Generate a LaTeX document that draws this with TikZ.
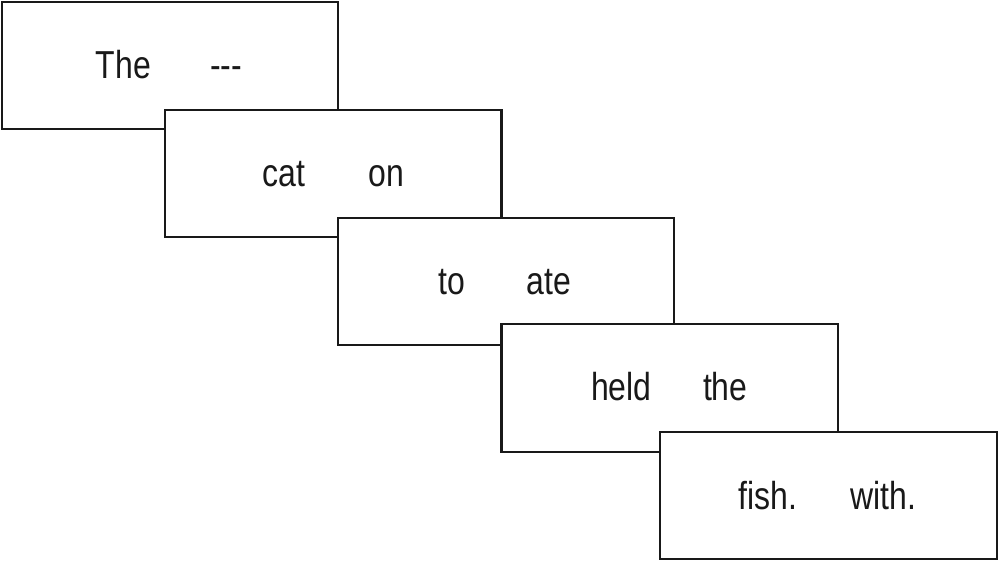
\documentclass[tikz,border=0pt]{standalone}
\usepackage{fontspec}
\newfontfamily\lab{Liberation Sans}
\newcommand{\narrowword}[1]{\scalebox{0.82}[1]{#1}}
\begin{document}
\begin{tikzpicture}[x=0.02cm,y=-0.02cm,
  card/.style={draw=black!90,fill=white,line width=1.35pt,rectangle,minimum width=6.73cm,minimum height=2.55cm,inner sep=0pt},
  word/.style={anchor=base,inner sep=0pt,text=black!90,font=\lab\fontsize{22.2}{26}\selectfont}]
\useasboundingbox (0,0) rectangle (1000,563);
\node[card] (b1) at (170,65.5) {};
\node[word] (w1a) at (123.3,79) {\narrowword{The}};
\node[word] (w1b) at (226.3,79) {\narrowword{-\kern0pt-\kern0pt-}};
\node[card] (b2) at (333.3,173.5) {};
\node[word] (w2a) at (283.8,187) {\narrowword{cat}};
\node[word] (w2b) at (386,187) {\narrowword{on}};
\node[card] (b3) at (506,281.5) {};
\node[word] (w3a) at (452,295) {\narrowword{to}};
\node[word] (w3b) at (549.2,295) {\narrowword{ate}};
\node[card] (b4) at (669.8,388) {};
\node[word] (w4a) at (621.3,401) {\narrowword{held}};
\node[word] (w4b) at (725.3,401) {\narrowword{the}};
\node[card] (b5) at (828.5,495.5) {};
\node[word] (w5a) at (768,509) {\narrowword{fish.}};
\node[word] (w5b) at (883.5,509) {\narrowword{with.}};
\end{tikzpicture}
\end{document}
